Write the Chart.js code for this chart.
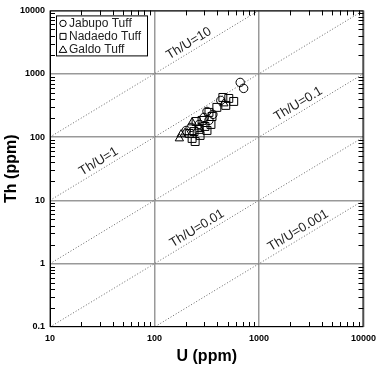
<!DOCTYPE html>
<html lang="en">
<head>
  <meta charset="UTF-8" />
  <title>Th vs U</title>
  <script src="https://cdn.jsdelivr.net/npm/chart.js"></script>
  <style>
    body { margin: 0; background: #fff; }
    .wrap { width: 382px; height: 367px; }
  </style>
</head>
<body>
  <div class="wrap"><canvas id="thu"></canvas></div>

  <script>
    const FONT = '"Liberation Sans", Arial, sans-serif';

    // data (ppm)
    const seriesNames = ['Jabupo Tuff', 'Nadaedo Tuff', 'Galdo Tuff'];
    const jabupoU  = [661, 713, 431, 318, 362, 332, 298, 224, 201, 267];
    const jabupoTh = [729, 586, 379, 254, 228, 183, 204, 142, 127, 158];
    const nadaedoU  = [451, 514, 573, 481, 395, 332, 355, 285, 250, 347, 304, 267, 239, 273, 229, 245, 215, 318];
    const nadaedoTh = [422, 407, 365, 316, 294, 245, 211, 183, 176, 158, 147, 132, 122, 106, 95, 85, 114, 127];
    const galdoU  = [180, 197, 173, 229, 461, 267];
    const galdoTh = [110, 118, 95, 170, 339, 142];

    const ratios = [10, 1, 0.1, 0.01, 0.001];
    const ratioLabels = ['Th/U=10', 'Th/U=1', 'Th/U=0.1', 'Th/U=0.01', 'Th/U=0.001'];
    const xTicks = [10, 100, 1000, 10000];
    const yTicks = [0.1, 1, 10, 100, 1000, 10000];

    const pts = (us, ths) => us.map((u, i) => ({ x: u, y: ths[i] }));

    const ratioSets = ratios.map(r => ({
      data: [{ x: 10, y: 10 * r }, { x: 10000, y: 10000 * r }],
      showLine: true,
      pointRadius: 0,
      borderColor: '#666',
      borderWidth: 1,
      borderDash: [1, 2]
    }));

    const marker = (style, radius) => ({
      pointStyle: style,
      pointRadius: radius,
      borderColor: '#000',
      backgroundColor: 'rgba(0,0,0,0)',
      borderWidth: 1
    });

    // frame, inner minor ticks, ratio labels and legend
    const decor = {
      id: 'decor',
      afterDatasetsDraw(chart, args, opts) {
        const { ctx, chartArea: a, scales: { x, y } } = chart;
        ctx.save();
        ctx.strokeStyle = '#000';
        ctx.lineWidth = 1;
        ctx.beginPath();
        for (let e = 1; e < 4; e++) {
          for (let m = 2; m < 10; m++) {
            const px = Math.round(x.getPixelForValue(m * 10 ** e)) + 0.5;
            ctx.moveTo(px, a.bottom); ctx.lineTo(px, a.bottom - 5);
            ctx.moveTo(px, a.top); ctx.lineTo(px, a.top + 5);
          }
        }
        for (let e = -1; e < 4; e++) {
          for (let m = 2; m < 10; m++) {
            const py = Math.round(y.getPixelForValue(m * 10 ** e)) + 0.5;
            ctx.moveTo(a.left, py); ctx.lineTo(a.left + 5, py);
            ctx.moveTo(a.right, py); ctx.lineTo(a.right - 5, py);
          }
        }
        ctx.stroke();
        ctx.strokeRect(a.left + 0.5, a.top + 0.5, a.width - 1, a.height - 1);

        // Th/U labels along the dotted lines
        ctx.fillStyle = '#222';
        ctx.font = '13px ' + FONT;
        ctx.textAlign = 'center';
        ctx.textBaseline = 'middle';
        ratios.forEach((r, i) => {
          const u = opts.anchors[i];
          const ang = Math.atan2(
            y.getPixelForValue(10000 * r) - y.getPixelForValue(10 * r),
            x.getPixelForValue(10000) - x.getPixelForValue(10));
          ctx.save();
          ctx.translate(x.getPixelForValue(u), y.getPixelForValue(u * r));
          ctx.rotate(ang);
          ctx.fillText(ratioLabels[i], 0, -8);
          ctx.restore();
        });

        // legend box
        const lx = a.left + 6, ly = a.top + 5;
        ctx.fillStyle = '#fff';
        ctx.fillRect(lx, ly, 91, 40);
        ctx.strokeRect(lx + 0.5, ly + 0.5, 91, 40);
        ctx.font = '12px ' + FONT;
        ctx.textAlign = 'left';
        ctx.fillStyle = '#222';
        seriesNames.forEach((name, i) => {
          const cy = ly + 8 + i * 13;
          const cx = lx + 7;
          ctx.beginPath();
          if (i === 0) ctx.arc(cx, cy, 3.2, 0, Math.PI * 2);
          else if (i === 1) ctx.rect(cx - 3, cy - 3, 6, 6);
          else { ctx.moveTo(cx, cy - 3.5); ctx.lineTo(cx + 3.8, cy + 3); ctx.lineTo(cx - 3.8, cy + 3); ctx.closePath(); }
          ctx.stroke();
          ctx.fillText(name, lx + 13, cy + 0.5);
        });
        ctx.restore();
      }
    };

    const tickFont = { family: FONT, size: 9, weight: 'bold' };
    const titleFont = { family: FONT, size: 16, weight: 'bold' };

    new Chart(document.getElementById('thu'), {
      type: 'scatter',
      data: {
        datasets: [
          ...ratioSets,
          { label: seriesNames[0], data: pts(jabupoU, jabupoTh), ...marker('circle', 4.2) },
          { label: seriesNames[1], data: pts(nadaedoU, nadaedoTh), ...marker('rect', 5.6) },
          { label: seriesNames[2], data: pts(galdoU, galdoTh), ...marker('triangle', 4.8) }
        ]
      },
      plugins: [decor],
      options: {
        responsive: true,
        maintainAspectRatio: false,
        animation: false,
        layout: { padding: { top: 10, right: 16, left: 0, bottom: 0 } },
        plugins: {
          legend: { display: false },
          tooltip: { enabled: false },
          decor: { anchors: [234, 32, 2600, 280, 2600] }
        },
        scales: {
          x: {
            type: 'logarithmic',
            min: 10, max: 10000,
            afterBuildTicks: s => { s.ticks = xTicks.map(v => ({ value: v })); },
            afterFit: s => { s.height = 40; },
            ticks: { font: tickFont, color: '#000', padding: 6, maxRotation: 0, autoSkip: false, callback: v => String(v) },
            grid: { color: '#999', lineWidth: 1.5, drawTicks: false },
            border: { display: false },
            title: { display: true, text: 'U (ppm)', font: titleFont, color: '#000', padding: { top: 0, bottom: 1 } }
          },
          y: {
            type: 'logarithmic',
            min: 0.1, max: 10000,
            afterBuildTicks: s => { s.ticks = yTicks.map(v => ({ value: v })); },
            afterFit: s => { s.width = 50; },
            ticks: { font: tickFont, color: '#000', padding: 5, autoSkip: false, callback: v => String(v) },
            grid: { color: '#999', lineWidth: 1.5, drawTicks: false },
            border: { display: false },
            title: { display: true, text: 'Th (ppm)', font: titleFont, color: '#000', padding: { top: 2, bottom: 0 } }
          }
        }
      }
    });
  </script>
</body>
</html>
